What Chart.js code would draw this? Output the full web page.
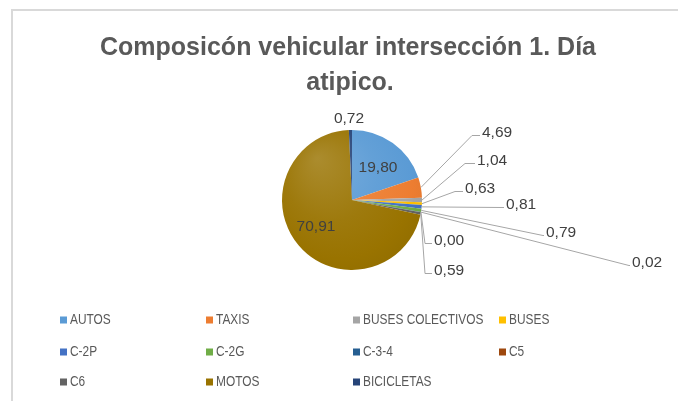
<!DOCTYPE html>
<html><head><meta charset="utf-8">
<script src="https://cdn.jsdelivr.net/npm/chart.js@4/dist/chart.umd.min.js"></script>
<style>
html,body{margin:0;padding:0;background:#fff;}
#wrap{position:relative;width:678px;height:401px;overflow:hidden;}
#frame{position:absolute;left:11px;top:9px;right:0;bottom:0;border-top:2px solid #d9d9d9;border-left:2px solid #d9d9d9;}
canvas{position:absolute;left:0;top:0;}
</style></head><body>
<div id="wrap"><div id="frame"></div><canvas id="c" width="678" height="401"></canvas></div>
<script>
// ---- data ----
const categories = ['AUTOS','TAXIS','BUSES COLECTIVOS','BUSES','C-2P','C-2G','C-3-4','C5','C6','MOTOS','BICICLETAS'];
const shares = [19.80, 4.69, 1.04, 0.63, 0.81, 0.79, 0.02, 0.00, 0.59, 70.91, 0.72];
const titleLines = ['Composicón vehicular intersección 1. Día', 'atipico.'];

// ---- styles / layout ----
const colors = ['#5B9BD5','#ED7D31','#A5A5A5','#FFC000','#4472C4','#70AD47','#255E91','#9E480E','#636363','#997300','#264478'];
// label placement, offsets from the pie centre (px)
const labelLayout = [
  {inside:true, dx:26, dy:-32},
  {dx:120, dy:-65, h:8},
  {dx:113, dy:-37, h:10},
  {dx:103, dy:-9, h:8},
  {dx:151, dy:7, h:1},
  {dx:191, dy:35, h:1},
  {dx:277, dy:65, h:1},
  {dx:73, dy:43, h:7},
  {dx:73, dy:73, h:7},
  {inside:true, dx:-36, dy:27},
  {inside:true, dx:-3, dy:-81}
];
const legendCols = [60, 206, 353, 499];
const legendRows = [320, 352, 382];

const fmt = v => v.toFixed(2).replace('.', ',');

function shade(hex, t) {
  const n = parseInt(hex.slice(1), 16);
  const ch = [n >> 16, (n >> 8) & 255, n & 255].map(c => t >= 0 ? Math.round(c + (255 - c) * t) : Math.round(c * (1 + t)));
  return 'rgb(' + ch.join(',') + ')';
}

function sliceFill(c) {
  const col = colors[c.dataIndex];
  const ca = c.chart.chartArea;
  if (!ca) return col;
  const x = (ca.left + ca.right) / 2, y = (ca.top + ca.bottom) / 2;
  const r = Math.min(ca.right - ca.left, ca.bottom - ca.top) / 2;
  const g = c.chart.ctx.createRadialGradient(x - r * 0.5, y - r * 0.6, 0, x - r * 0.1, y - r * 0.1, r * 1.3);
  g.addColorStop(0, shade(col, 0.18));
  g.addColorStop(0.5, shade(col, 0.05));
  g.addColorStop(0.8, col);
  g.addColorStop(1, shade(col, -0.05));
  return g;
}

const decor = {
  id: 'decor',
  afterDraw(chart) {
    const ctx = chart.ctx;
    const meta = chart.getDatasetMeta(0);
    const a0 = meta.data[0];
    const cx = a0.x, cy = a0.y;
    ctx.save();
    // title
    ctx.fillStyle = '#595959';
    ctx.font = 'bold 25px "Liberation Sans", Arial, sans-serif';
    ctx.textAlign = 'center';
    ctx.textBaseline = 'alphabetic';
    ctx.fillText(titleLines[0], 348, 55);
    ctx.fillText(titleLines[1], 350, 90);

    // data labels
    ctx.font = '15.5px "Liberation Sans", Arial, sans-serif';
    ctx.textBaseline = 'middle';
    meta.data.forEach((arc, i) => {
      const L = labelLayout[i];
      const txt = fmt(shares[i]);
      ctx.fillStyle = '#404040';
      if (L.inside) {
        ctx.textAlign = 'center';
        ctx.fillText(txt, cx + L.dx, cy + L.dy);
        return;
      }
      const mid = (arc.startAngle + arc.endAngle) / 2;
      const r = arc.outerRadius;
      const sx = cx + r * Math.cos(mid), sy = cy + r * Math.sin(mid);
      const ex = cx + L.dx, ey = cy + L.dy;
      ctx.strokeStyle = '#a6a6a6';
      ctx.lineWidth = 1;
      ctx.beginPath();
      ctx.moveTo(sx, sy);
      ctx.lineTo(ex, ey + 0.5);
      ctx.lineTo(ex + L.h, ey + 0.5);
      ctx.stroke();
      ctx.textAlign = 'left';
      ctx.fillText(txt, ex + L.h + 2, ey - 2);
    });

    // legend
    ctx.font = '14px "Liberation Sans", Arial, sans-serif';
    ctx.textAlign = 'left';
    ctx.textBaseline = 'middle';
    categories.forEach((name, i) => {
      const x = legendCols[i % 4], y = legendRows[Math.floor(i / 4)];
      ctx.fillStyle = colors[i];
      ctx.fillRect(x, y - 3.5, 7, 7);
      ctx.fillStyle = '#595959';
      ctx.save();
      ctx.translate(x + 10, y + 0.5);
      ctx.scale(0.85, 1);
      ctx.fillText(name, 0, 0);
      ctx.restore();
    });
    ctx.restore();
  }
};

new Chart(document.getElementById('c'), {
  type: 'pie',
  data: {
    labels: categories,
    datasets: [{ data: shares, backgroundColor: sliceFill, borderWidth: 0, hoverOffset: 0, offset: 0 }]
  },
  options: {
    responsive: false,
    animation: false,
    layout: { padding: { left: 282, right: 256, top: 130, bottom: 131 } },
    plugins: { legend: { display: false }, title: { display: false }, tooltip: { enabled: false } }
  },
  plugins: [decor]
});
</script>
</body></html>
